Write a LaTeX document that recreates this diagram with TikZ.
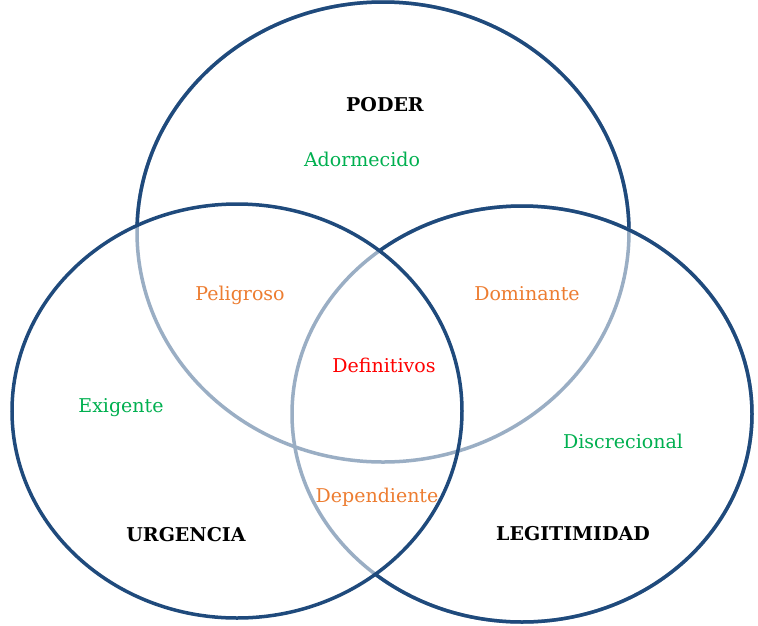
\documentclass[tikz,border=0pt]{standalone}
\usepackage{fontspec}
\setmainfont{DejaVu Serif}
\definecolor{ringblue}{HTML}{1F4A7C}
\colorlet{ringlight}{ringblue!45!white}
\definecolor{lbgreen}{HTML}{00B050}
\definecolor{lborange}{HTML}{ED7D31}
\definecolor{lbred}{HTML}{FF0000}
\tikzset{
  ring/.style={draw=ringblue, line width=3.5pt},
  ringfaint/.style={draw=ringlight, line width=3.5pt},
  lbl/.style={anchor=base, inner sep=0pt, font=\fontsize{19}{22}\selectfont},
  title/.style={lbl, font=\fontsize{19}{22}\selectfont\bfseries, text=black},
}
\def\topring{(383,232) ellipse (246pt and 230pt)}
\def\rightring{(522,414) ellipse (230pt and 208pt)}
\def\leftring{(237,411) ellipse (225pt and 207pt)}
\begin{document}
\begin{tikzpicture}[x=1pt,y=-1pt]
\useasboundingbox (0,0) rectangle (758,625);
\fill[white] (0,0) rectangle (758,625);
% top ring: faint inside the other rings, dark outside them
\draw[ringfaint] \topring;
\begin{scope}[even odd rule]
  \clip (-10,-10) rectangle (770,640) \rightring;
  \begin{scope}[even odd rule]
    \clip (-10,-10) rectangle (770,640) \leftring;
    \draw[ring] \topring;
  \end{scope}
\end{scope}
% right ring: faint inside the left ring
\draw[ringfaint] \rightring;
\begin{scope}[even odd rule]
  \clip (-10,-10) rectangle (770,640) \leftring;
  \draw[ring] \rightring;
\end{scope}
% left ring on top
\draw[ring] \leftring;
% labels
\node[title] (poder) at (385,111) {PODER};
\node[lbl, text=lbgreen] (adorm) at (362,166) {Adormecido};
\node[lbl, text=lborange] (pelig) at (240,300) {Peligroso};
\node[lbl, text=lborange] (domin) at (527,300) {Dominante};
\node[lbl, text=lbred] (defin) at (384,372) {Definitivos};
\node[lbl, text=lbgreen] (exig) at (121,412) {Exigente};
\node[lbl, text=lbgreen] (discr) at (623,448) {Discrecional};
\node[lbl, text=lborange] (depen) at (377,502) {Dependiente};
\node[title] (urg) at (186,541) {URGENCIA};
\node[title] (legit) at (573,540) {LEGITIMIDAD};
\end{tikzpicture}
\end{document}
